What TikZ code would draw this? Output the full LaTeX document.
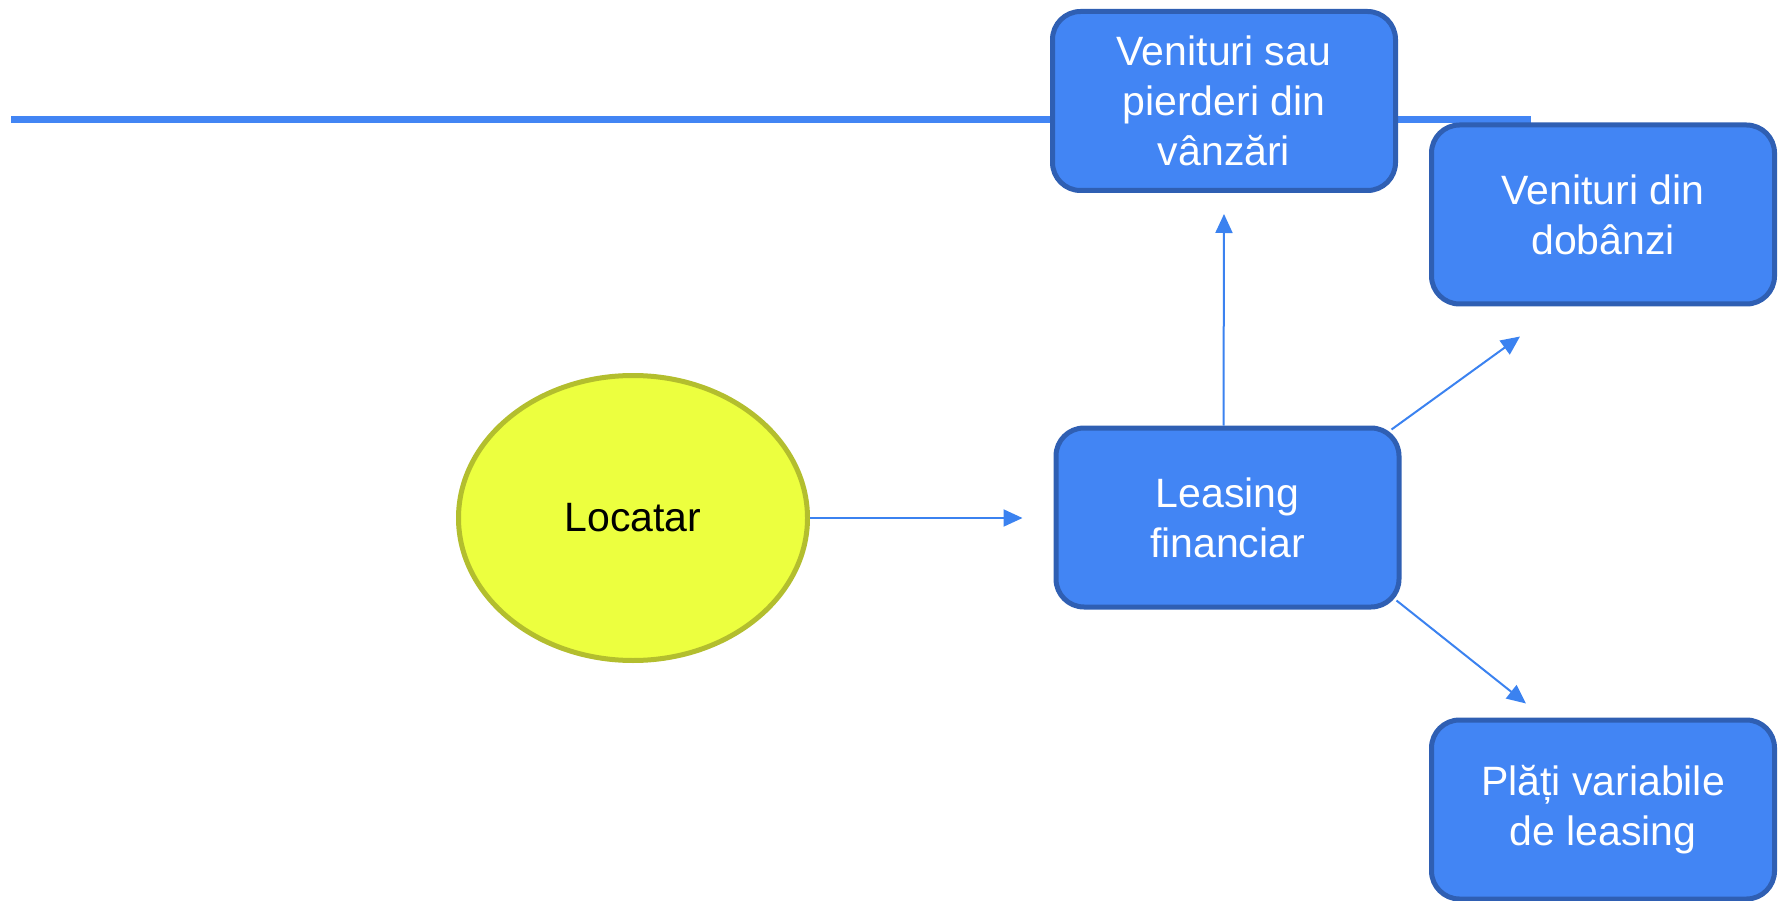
\documentclass[tikz,border=0pt]{standalone}
\usepackage{fontspec}
\setmainfont{Liberation Sans}
\usetikzlibrary{arrows.meta,calc,shapes.geometric}
\definecolor{boxfill}{HTML}{4285F4}
\definecolor{boxedge}{HTML}{2F5FB3}
\definecolor{arrowblue}{HTML}{3B82F0}
\definecolor{ellfill}{HTML}{ECFF3F}
\definecolor{elledge}{HTML}{B3BE2E}
\tikzset{
  bluebox/.style={draw=boxedge, fill=boxfill, line width=5pt, rounded corners=28pt,
    minimum width=343pt, minimum height=179pt, inner sep=0pt, align=center,
    text=white, font=\fontsize{41}{50}\selectfont},
  yellowell/.style={ellipse, draw=elledge, fill=ellfill, line width=5pt,
    minimum width=349pt, minimum height=285pt, inner sep=0pt,
    font=\fontsize{41}{50}\selectfont},
  arr/.style={draw=arrowblue, line width=2pt, -{Triangle[length=19pt,width=17pt]}},
  topline/.style={draw=boxfill, line width=7pt}
}
\begin{document}
\begin{tikzpicture}[x=1pt,y=-1pt]
\useasboundingbox (0,0) rectangle (1788,901);
\coordinate (l1) at (11,120);
\coordinate (l2) at (1531,120);
\draw[topline] (l1) -- (l2);
\node[bluebox] (v1) at (1224,101) {Venituri sau\\pierderi din\\vânzări};
\node[bluebox] (v2) at (1603,214.5) {Venituri din\\dobânzi};
\node[bluebox] (lf) at (1227.5,517.5) {Leasing\\financiar};
\node[bluebox] (pv) at (1603,809.5) {Plăți variabile\\de leasing};
\node[yellowell] (loc) at (633,518) {Locatar};
\coordinate (e1) at ($(v1.south)+(0,21)$);
\coordinate (e2) at ($(v2.south west)+(91,30)$);
\coordinate (e3) at ($(pv.north west)+(97,-14)$);
\draw[arr, shorten >=31pt] (loc.east) -- (lf.west |- loc.east);
\draw[arr] ($(lf.north)+(-4,0)$) -- (e1);
\draw[arr] ($(lf.north east)+(-10,4)$) -- (e2);
\draw[arr] ($(lf.south east)+(-5,-9)$) -- (e3);
\end{tikzpicture}
\end{document}
